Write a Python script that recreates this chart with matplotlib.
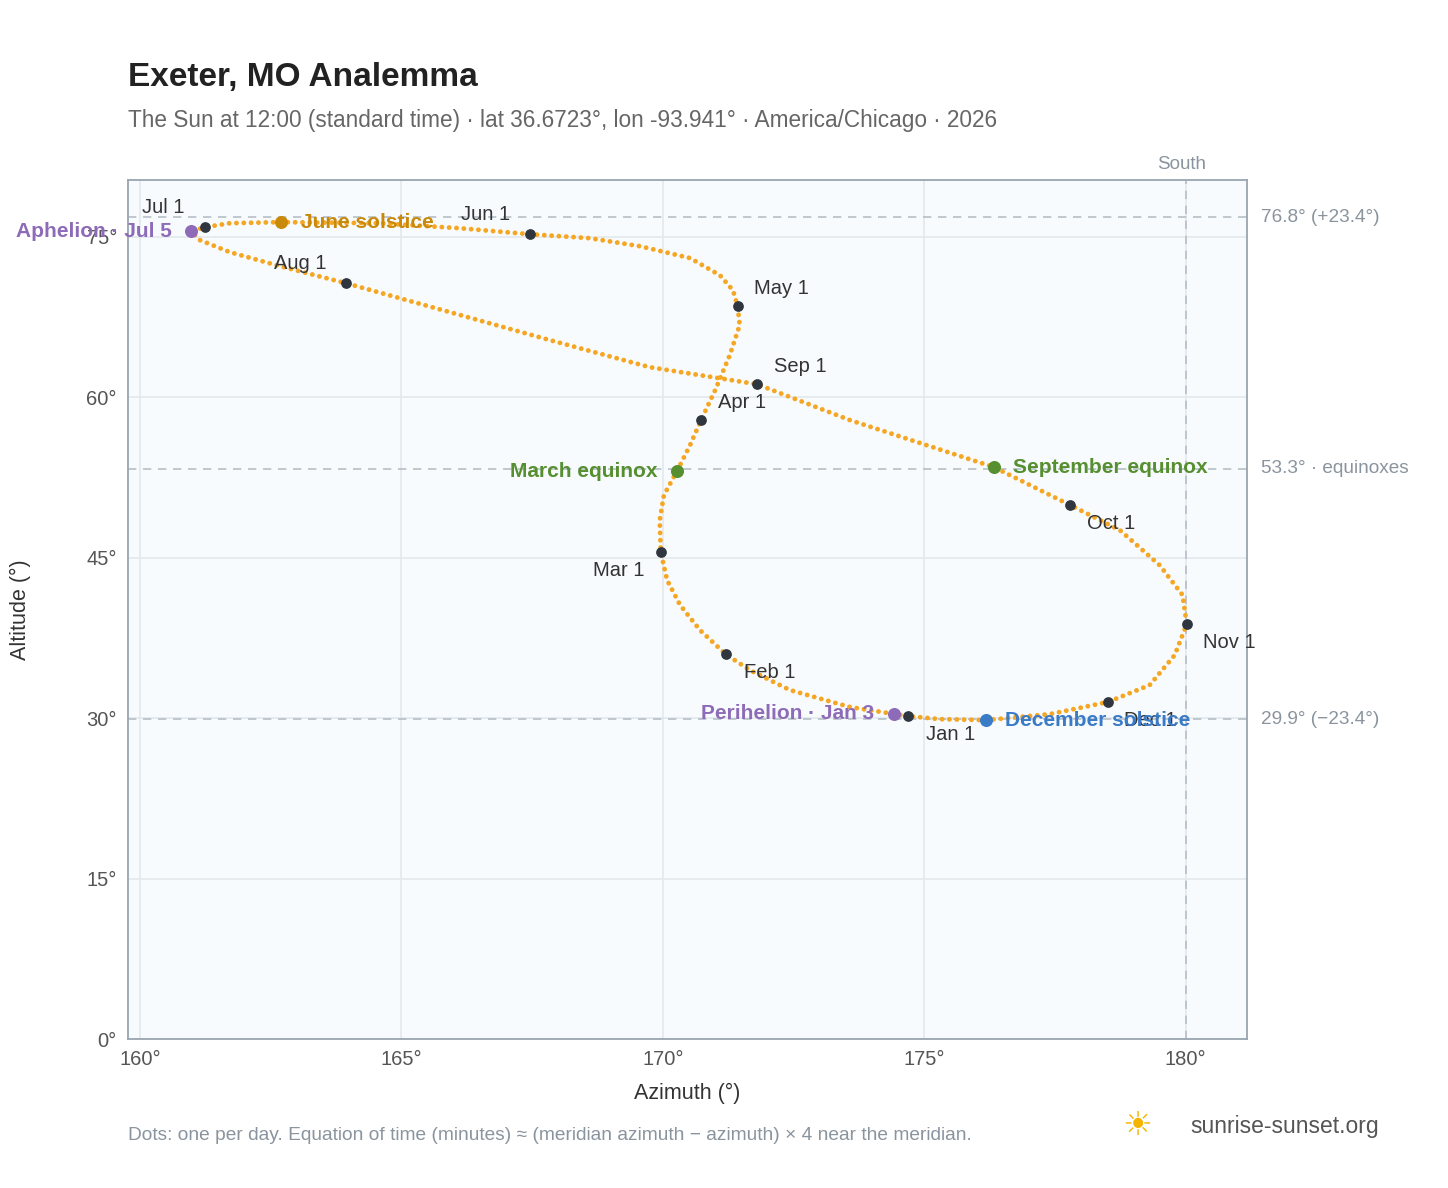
import matplotlib
matplotlib.use("Agg")
import matplotlib.pyplot as plt
plt.rcParams['font.family'] = ['Liberation Sans','DejaVu Sans']

# daily-track samples (azimuth, altitude), Jan 1 -> Dec 31
track_az = [174.68,173.58,172.43,171.66,171.2,170.71,170.33,170.08,169.96,169.94,170.02,170.27,170.52,170.73,171.0,171.28,171.47,171.43,171.34,171.09,170.52,169.56,168.6,167.46,166.12,164.59,162.7,161.72,161.24,160.98,161.15,161.72,162.68,163.94,165.93,167.84,169.75,171.8,173.58,176.33,177.79,178.74,179.5,179.94,180.02,179.79,179.31,178.51,177.4,176.18,175.3,174.68]
track_alt = [30.19,31.03,32.62,34.49,35.98,38.22,40.56,42.9,45.51,48.5,50.84,53.08,55.51,57.85,60.65,63.93,66.73,68.5,70.0,71.4,73.0,74.11,74.86,75.23,75.79,76.26,76.36,76.26,75.89,75.51,74.67,73.55,72.24,70.65,67.94,65.33,62.8,61.21,57.85,53.46,49.91,47.57,44.3,41.5,38.79,35.89,33.08,31.5,30.37,29.81,29.9,30.19]

months = ["Jan 1","Feb 1","Mar 1","Apr 1","May 1","Jun 1","Jul 1","Aug 1","Sep 1","Oct 1","Nov 1","Dec 1"]
month_az = [174.68,171.2,169.96,170.73,171.43,167.46,161.24,163.94,171.8,177.79,180.02,178.51]
month_alt = [30.19,35.98,45.51,57.85,68.5,75.23,75.89,70.65,61.21,49.91,38.79,31.5]
month_off = [(13,-13),(13,-13),(-12,-13),(12,13),(12,13),(-32,14),(-30,14),(-33,14),(12,13),(12,-13),(12,-13),(12,-13)]
month_ha = ["left","left","right","left","left","center","center","center","left","left","left","left"]

events = ["March equinox","June solstice","September equinox","December solstice","Perihelion · Jan 3","Aphelion · Jul 5"]
event_az = [170.27,162.7,176.33,176.18,174.42,160.98]
event_alt = [53.08,76.36,53.46,29.81,30.4,75.51]
event_col = ["#568f2f","#c98a0b","#568f2f","#3a7bc8","#8e6bb8","#8e6bb8"]
event_ha = ["right","left","left","left","right","right"]

ref_alt = [76.8,53.3,29.9]
ref_lab = ["76.8° (+23.4°)","53.3° · equinoxes","29.9° (−23.4°)"]

fig = plt.figure(figsize=(14.48,11.88),dpi=100)
ax = fig.add_axes([0.0884,0.1254,0.7727,0.7231])
ax.set_facecolor("#f8fbfd")
ax.set_xlim(159.77,181.17); ax.set_ylim(0,80.3)
ax.set_xticks([160,165,170,175,180]); ax.set_xticklabels([f"{v}°" for v in [160,165,170,175,180]])
ax.set_yticks([0,15,30,45,60,75]); ax.set_yticklabels([f"{v}°" for v in [0,15,30,45,60,75]])
ax.grid(color="#e3e8ee",lw=1.2); ax.set_axisbelow(True)
for s in ax.spines.values(): s.set_color("#9aa5b1"); s.set_linewidth(1.3)
ax.tick_params(colors="#555", labelsize=14.5, length=0, pad=8)
ax.set_xlabel("Azimuth (°)",fontsize=15.5,color="#333",labelpad=10)
ax.set_ylabel("Altitude (°)",fontsize=15.5,color="#333",labelpad=40)

for a,l in zip(ref_alt,ref_lab):
    ax.axhline(a,color="#b5bec8",ls=(0,(5,4)),lw=1.2,zorder=1)
    ax.annotate(l,(1,a),xycoords=("axes fraction","data"),xytext=(10,0),textcoords="offset points",va="center",fontsize=13.7,color="#8a949e",annotation_clip=False)
ax.axvline(180,color="#b5bec8",ls=(0,(5,4)),lw=1.2,zorder=1)
ax.annotate("South",(180,1),xycoords=("data","axes fraction"),xytext=(-3,8),textcoords="offset points",ha="center",fontsize=13.5,color="#8a949e",annotation_clip=False)

ax.plot(track_az,track_alt,color="#f5a623",lw=3.5,ls=(0,(0.01,1.5)),dash_capstyle="round",zorder=3)
ax.scatter(month_az,month_alt,s=45,color="#2f3640",zorder=5)
for m,x,y,o,h in zip(months,month_az,month_alt,month_off,month_ha):
    ax.annotate(m,(x,y),xytext=o,textcoords="offset points",fontsize=14.5,color="#333",ha=h,va="center",zorder=6)
for e,x,y,c,h in zip(events,event_az,event_alt,event_col,event_ha):
    ax.scatter([x],[y],s=70,color=c,zorder=6)
    ax.annotate(e,(x,y),xytext=(14 if h=="left" else -14,0),textcoords="offset points",ha=h,va="center",fontsize=15,color=c,fontweight="bold",zorder=7,annotation_clip=False)

fig.text(0.0884,0.928,"Exeter, MO Analemma",fontsize=24,fontweight="bold",color="#222")
fig.text(0.0884,0.893,"The Sun at 12:00 (standard time) · lat 36.6723°, lon -93.941° · America/Chicago · 2026",fontsize=16.3,color="#666")
fig.text(0.0884,0.040,"Dots: one per day. Equation of time (minutes) ≈ (meridian azimuth − azimuth) × 4 near the meridian.",fontsize=13.8,color="#8a949e")
fig.text(0.822,0.046,"sunrise-sunset.org",fontsize=16.5,color="#555")
fig.text(0.775,0.044,"☀",fontsize=24,color="#f5b400",family="DejaVu Sans")
fig.savefig("out.png",dpi=100)
